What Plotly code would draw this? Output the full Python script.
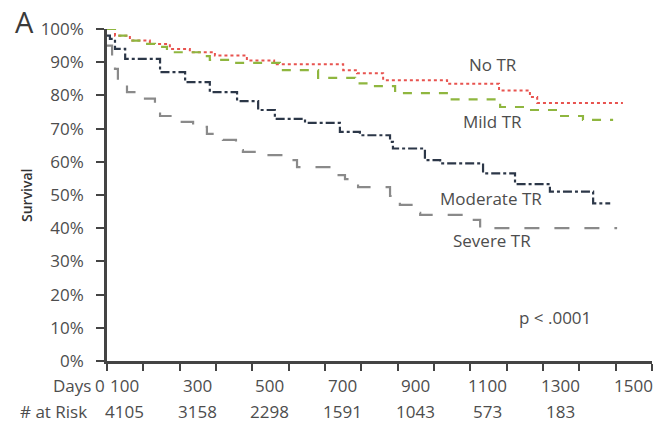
import plotly.graph_objects as go

# ---- data (days, survival %) ----
no_tr_days = [0, 22, 63, 118, 173, 228, 297, 385, 460, 650, 688, 760, 936, 1079, 1164, 1184, 1420]
no_tr_surv = [100, 98, 96.5, 95.5, 94, 93, 92, 90.5, 89.4, 87.6, 86.7, 84.6, 83.5, 81.5, 79.5, 77.7, 77.7]

mild_tr_days = [0, 22, 63, 105, 132, 165, 270, 283, 352, 476, 581, 683, 724, 793, 944, 1073, 1082, 1164, 1239, 1310, 1393]
mild_tr_surv = [100, 98, 96.5, 95.5, 94.6, 93, 91.8, 90.7, 89.8, 87.6, 85.3, 83.6, 82.8, 80.7, 78.8, 77.6, 76.5, 75.6, 73.8, 72.6, 72.6]

mod_tr_days = [0, 8, 22, 50, 146, 215, 283, 358, 416, 462, 545, 641, 696, 779, 787, 875, 917, 1035, 1123, 1219, 1338, 1385]
mod_tr_surv = [98, 97, 94, 91, 87, 84, 81, 78.3, 75.6, 72.9, 71.7, 69, 68, 66, 64, 60.5, 59.5, 56.5, 53.3, 51, 47.5, 47.5]

sev_tr_days = [0, 14, 22, 30, 55, 99, 132, 146, 201, 237, 275, 319, 355, 374, 440, 490, 523, 622, 655, 691, 779, 806, 842, 862, 991, 1027, 1404]
sev_tr_surv = [95, 92, 88, 84.5, 81, 79, 75.5, 73.8, 72, 70.5, 68.4, 66.6, 63.5, 63, 62, 60.5, 58.4, 56, 54.8, 52.4, 49.7, 47, 44.6, 44, 42.5, 40, 40]

day_ticks = list(range(0, 1501, 100))
day_labels = ["0", "100", "300", "500", "700", "900", "1100", "1300", "1500"]
day_label_vals = [0, 100, 300, 500, 700, 900, 1100, 1300, 1500]
risk_vals = [100, 300, 500, 700, 900, 1100, 1300]
risk_counts = ["4105", "3158", "2298", "1591", "1043", "573", "183"]
y_ticks = list(range(0, 101, 10))
y_labels = [f"{v}%" for v in y_ticks]

FONT = "Open Sans"
TXT = "#4d4d4d"
AX = "#444444"
FS = 17

W, H = 653, 423
L, T, R, B = 107, 29, 1, 62
PW, PH = W - L - R, H - T - B

fig = go.Figure()
series = [
    (no_tr_days, no_tr_surv, "#e8534f", "dot", 2.0),
    (mild_tr_days, mild_tr_surv, "#8fb63f", "dash", 2.2),
    (mod_tr_days, mod_tr_surv, "#2c3748", "dashdot", 2.2),
    (sev_tr_days, sev_tr_surv, "#8a8a8a", "longdash", 2.2),
]
for xs, ys, col, dash, w in series:
    fig.add_trace(go.Scatter(x=xs, y=ys, mode="lines", line=dict(color=col, dash=dash, width=w, shape="hv"),
                             showlegend=False, hoverinfo="skip"))

fig.update_layout(
    width=W, height=H,
    margin=dict(l=L, r=R, t=T, b=B),
    paper_bgcolor="white", plot_bgcolor="white",
    font=dict(family=FONT, color=TXT, size=FS),
    xaxis=dict(range=[0, 1500], tickvals=day_ticks, showticklabels=False, ticks="outside", ticklen=7,
               tickwidth=2, tickcolor=AX, showline=True, linecolor=AX, linewidth=2.5, showgrid=False,
               zeroline=False),
    yaxis=dict(range=[0, 100], tickvals=y_ticks, ticktext=y_labels, ticks="outside", ticklen=8,
               tickwidth=2, tickcolor=AX, showline=True, linecolor=AX, linewidth=2.5, showgrid=False,
               zeroline=False, tickfont=dict(size=FS, color=TXT), ticklabelstandoff=9),
)

ann = []
for v, t in zip(day_label_vals, day_labels):
    ann.append(dict(x=v, y=0, xref="x", yref="paper", text=t, showarrow=False, xanchor="center",
                    yanchor="middle", yshift=-24, xshift=(-7 if v == 0 else -19), font=dict(size=FS, color=TXT)))
for v, t in zip(risk_vals, risk_counts):
    ann.append(dict(x=v, y=0, xref="x", yref="paper", text=t, showarrow=False, xanchor="center",
                    yanchor="middle", yshift=-50, xshift=-19, font=dict(size=FS, color=TXT)))
ann.append(dict(x=0, y=0, xref="x", yref="paper", text="Days", showarrow=False, xanchor="right",
                yanchor="middle", yshift=-24, xshift=-14, font=dict(size=FS, color=TXT)))
ann.append(dict(x=0, y=0, xref="x", yref="paper", text="# at Risk", showarrow=False, xanchor="right",
                yanchor="middle", yshift=-50, xshift=-18, font=dict(size=FS, color=TXT)))
for x, y, t in [(1062, 89.2, "No TR"), (1060, 72, "Mild TR"), (1057, 48.8, "Moderate TR"),
                (1060, 36.4, "Severe TR"), (1233, 13, "p &lt; .0001")]:
    ann.append(dict(x=x, y=y, xref="x", yref="y", text=t, showarrow=False, xanchor="center",
                    yanchor="middle", font=dict(size=FS, color=TXT)))
# pixel-placed items (page coordinates)
pix = [
    dict(x=24, y=22, text="A", font=dict(size=29, color="#3a3a3a")),
    dict(x=26, y=195, text="Survival", textangle=-90, font=dict(size=14, color="#333333", weight=600)),
]
for a in pix:
    px, py = a["x"], a["y"]
    a.update(xref="paper", yref="paper", showarrow=False, xanchor="center", yanchor="middle",
             x=(px - L) / PW, y=(H - B - py) / PH)
    ann.append(a)
fig.update_layout(annotations=ann)
fig.write_html("out.html", config={"displayModeBar": False},
               post_script="document.body.style.margin='0';document.body.style.overflow='hidden';")
